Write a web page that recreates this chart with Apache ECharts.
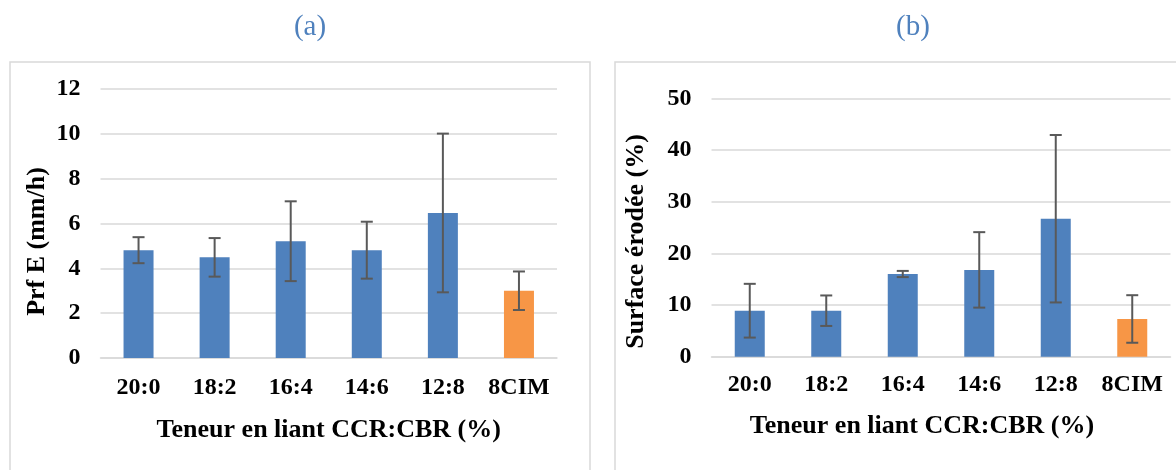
<!DOCTYPE html>
<html>
<head>
<meta charset="utf-8">
<script src="https://cdn.jsdelivr.net/npm/echarts@6/dist/echarts.min.js"></script>
<style>
html,body{margin:0;padding:0;background:#fff;}
#c{width:1176px;height:470px;}
</style>
</head>
<body>
<div id="c"></div>
<script>
// Data
const categories = ['20:0', '18:2', '16:4', '14:6', '12:8', '8CIM'];
const prfMeans = [4.81, 4.49, 5.21, 4.81, 6.47, 3.0];
const prfErrors = [0.58, 0.86, 1.78, 1.27, 3.54, 0.86];
const surfMeans = [8.9, 8.9, 16.0, 16.8, 26.7, 7.3];
const surfErrors = [5.2, 2.95, 0.6, 7.3, 16.2, 4.6];
const barColors = ['#4F81BD', '#4F81BD', '#4F81BD', '#4F81BD', '#4F81BD', '#F79646'];
const yTicksA = { min: 0, max: 12, interval: 2 };
const yTicksB = { min: 0, max: 50, interval: 10 };

const serif = '"Liberation Serif", "Times New Roman", serif';
const chart = echarts.init(document.getElementById('c'), null, { renderer: 'canvas' });

function barData(means) {
  return means.map((v, i) => ({ value: v, itemStyle: { color: barColors[i] } }));
}
function errData(means, errs) {
  return means.map((v, i) => [i, v - errs[i], v + errs[i]]);
}
function errRender(params, api) {
  const x = api.value(0);
  const lo = api.coord([x, api.value(1)]);
  const hi = api.coord([x, api.value(2)]);
  const cap = 6;
  const st = { stroke: '#595959', lineWidth: 2 };
  return {
    type: 'group',
    children: [
      { type: 'line', shape: { x1: lo[0], y1: lo[1], x2: hi[0], y2: hi[1] }, style: st },
      { type: 'line', shape: { x1: lo[0] - cap, y1: lo[1], x2: lo[0] + cap, y2: lo[1] }, style: st },
      { type: 'line', shape: { x1: hi[0] - cap, y1: hi[1], x2: hi[0] + cap, y2: hi[1] }, style: st }
    ]
  };
}

const xAxisCommon = {
  type: 'category',
  data: categories,
  nameLocation: 'middle',
  axisLine: { lineStyle: { color: '#d9d9d9', width: 1.5 } },
  axisTick: { show: false },
  axisLabel: { color: '#000', fontFamily: serif, fontWeight: 'bold', fontSize: 24, interval: 0, hideOverlap: false },
  nameTextStyle: { color: '#000', fontFamily: serif, fontWeight: 'bold', fontSize: 26 }
};
const yAxisCommon = {
  type: 'value',
  nameLocation: 'middle',
  axisLine: { show: false },
  axisTick: { show: false },
  splitLine: { lineStyle: { color: '#d9d9d9', width: 1.5 } },
  axisLabel: { color: '#000', fontFamily: serif, fontWeight: 'bold', fontSize: 24, margin: 20 },
  nameTextStyle: { color: '#000', fontFamily: serif, fontWeight: 'bold', fontSize: 26 }
};

chart.setOption({
  animation: false,
  backgroundColor: '#fff',
  title: [
    { text: '(a)', left: 305, top: 8, textAlign: 'center',
      textStyle: { color: '#4F81BD', fontFamily: serif, fontWeight: 'normal', fontSize: 29 } },
    { text: '(b)', left: 908, top: 8, textAlign: 'center',
      textStyle: { color: '#4F81BD', fontFamily: serif, fontWeight: 'normal', fontSize: 29 } }
  ],
  graphic: [
    { type: 'rect', shape: { x: 10, y: 62, width: 580, height: 420 }, style: { fill: 'none', stroke: '#d9d9d9', lineWidth: 1.5 }, silent: true, z: -1 },
    { type: 'rect', shape: { x: 615, y: 62, width: 600, height: 420 }, style: { fill: 'none', stroke: '#d9d9d9', lineWidth: 1.5 }, silent: true, z: -1 }
  ],
  grid: [
    { left: 100.5, right: 619, top: 89, bottom: 112 },
    { left: 711.5, right: 5.5, top: 98.3, bottom: 113.3 }
  ],
  xAxis: [
    Object.assign({}, xAxisCommon, { gridIndex: 0, name: 'Teneur en liant CCR:CBR (%)', nameGap: 59,
      axisLabel: Object.assign({}, xAxisCommon.axisLabel, { margin: 18 }) }),
    Object.assign({}, xAxisCommon, { gridIndex: 1, name: 'Teneur en liant CCR:CBR (%)', nameGap: 57,
      axisLabel: Object.assign({}, xAxisCommon.axisLabel, { margin: 16 }),
      nameTextStyle: Object.assign({}, xAxisCommon.nameTextStyle, { padding: [0, 38, 0, 0] }) })
  ],
  yAxis: [
    Object.assign({}, yAxisCommon, { gridIndex: 0, name: 'Prf E (mm/h)', nameGap: 50,
      nameTextStyle: Object.assign({}, yAxisCommon.nameTextStyle, { padding: [0, 36, 0, 0] }) }, yTicksA),
    Object.assign({}, yAxisCommon, { gridIndex: 1, name: 'Surface érodée (%)', nameGap: 62,
      nameTextStyle: Object.assign({}, yAxisCommon.nameTextStyle, { padding: [0, 28, 0, 0] }) }, yTicksB)
  ],
  series: [
    { type: 'bar', xAxisIndex: 0, yAxisIndex: 0, data: barData(prfMeans), barWidth: 30 },
    { type: 'custom', xAxisIndex: 0, yAxisIndex: 0, data: errData(prfMeans, prfErrors), renderItem: errRender, z: 5 },
    { type: 'bar', xAxisIndex: 1, yAxisIndex: 1, data: barData(surfMeans), barWidth: 30 },
    { type: 'custom', xAxisIndex: 1, yAxisIndex: 1, data: errData(surfMeans, surfErrors), renderItem: errRender, z: 5 }
  ]
});
</script>
</body>
</html>
